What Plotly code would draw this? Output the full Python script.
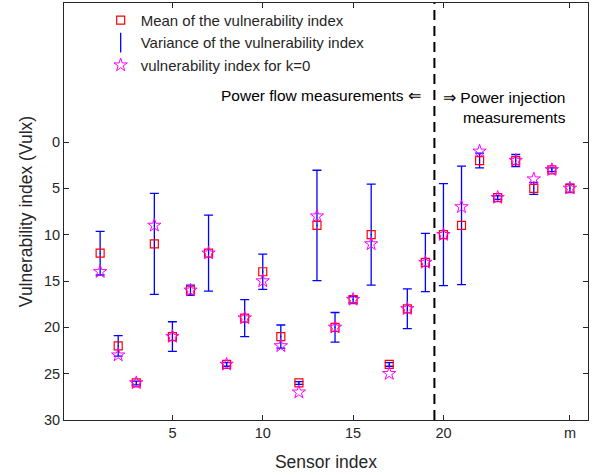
import plotly.graph_objects as go

# sensor index 1..m (m = 27)
sensors = list(range(1, 28))
mean_vi = [12, 22, 26, 11, 21, 16, 12, 24, 19, 14, 21, 26, 9, 20,
           17, 10, 24, 18, 13, 10, 9, 2, 6, 2, 5, 3, 5]
var_vi = [2.35, 1.1, 0.2, 5.45, 1.6, 0.55, 4.1, 0.2, 2.0, 1.9, 1.25, 0.15, 5.95, 1.6,
          0.35, 5.45, 0.2, 2.15, 3.15, 5.5, 6.4, 0.8, 0.2, 0.65, 0.65, 0.2, 0.45]
vi_k0 = [14, 23, 26, 9, 21, 16, 12, 24, 19, 15, 22, 27, 8, 20,
         17, 11, 25, 18, 13, 10, 7, 1, 6, 2, 4, 3, 5]

xtick_vals = [5, 10, 15, 20, 27]
xtick_text = ['5', '10', '15', '20', 'm']
ytick_vals = [0, 5, 10, 15, 20, 25, 30]
boundary = 19.5  # split between flow and injection sensors

font_family = "Liberation Sans, Arial, sans-serif"
txt_color = '#262626'

fig = go.Figure()

# error bars (variance)
fig.add_trace(go.Scatter(
    x=sensors, y=mean_vi, mode='markers', showlegend=False,
    marker=dict(symbol='line-ns-open', size=1, color='#0000ff', line=dict(width=1, color='#0000ff')),
    error_y=dict(type='data', array=var_vi, visible=True, color='#0000ff', thickness=1.3, width=4.5)))

fig.add_trace(go.Scatter(
    x=sensors, y=mean_vi, mode='markers', name='Mean of the vulnerability index', legendrank=1,
    marker=dict(symbol='square-open', size=8, color='#ff0000', line=dict(width=1.2, color='#ff0000'))))

# legend entry for the error bars
fig.add_trace(go.Scatter(
    x=[None], y=[None], mode='markers', name='Variance of the vulnerability index', legendrank=2,
    marker=dict(symbol='line-ns-open', size=14, color='#0000ff', line=dict(width=1.3, color='#0000ff'))))

fig.add_trace(go.Scatter(
    x=sensors, y=vi_k0, mode='markers', name='vulnerability index for k=0', legendrank=3,
    marker=dict(symbol='star-open', size=10, color='#ff00ff', line=dict(width=1, color='#ff00ff'))))

fig.add_vline(x=boundary, line=dict(color='black', width=2, dash='10px,6px'))

fig.add_annotation(x=boundary, xref='x', y=0.777, yref='paper', xanchor='right', yanchor='middle',
                   xshift=-11, showarrow=False, text='Power flow measurements ⇐',
                   font=dict(family=font_family, size=15.5, color='black'))
fig.add_annotation(x=boundary, xref='x', y=0.750, yref='paper', xanchor='left', yanchor='middle',
                   xshift=7, showarrow=False, align='right',
                   text='⇒ Power injection<br>measurements',
                   font=dict(family=font_family, size=15.5, color='black'))

axis_common = dict(showline=True, linecolor=txt_color, linewidth=1, mirror='ticks', automargin=False,
                   ticks='inside', ticklen=5, tickcolor=txt_color, showgrid=False, zeroline=False,
                   tickfont=dict(family=font_family, size=14.5, color=txt_color))

fig.update_layout(
    width=600, height=475,
    paper_bgcolor='white', plot_bgcolor='white',
    font=dict(family=font_family, size=15, color=txt_color),
    margin=dict(l=64, r=12, t=3, b=55),
    xaxis=dict(range=[-1, 28], tickvals=xtick_vals, ticktext=xtick_text,
               title=dict(text='Sensor index', font=dict(size=17.5, color=txt_color), standoff=15),
               **axis_common),
    yaxis=dict(range=[30, -15], tickvals=ytick_vals,
               title=dict(text='Vulnerability index (Vulx)', font=dict(size=17.5, color=txt_color), standoff=6),
               **axis_common),
    legend=dict(x=0.07, y=0.998, xanchor='left', yanchor='top', bgcolor='rgba(0,0,0,0)',
                font=dict(family=font_family, size=15, color=txt_color), tracegroupgap=0),
)

fig.write_html("out.html", config={'displayModeBar': False},
               post_script="document.body.style.margin='0px';")
